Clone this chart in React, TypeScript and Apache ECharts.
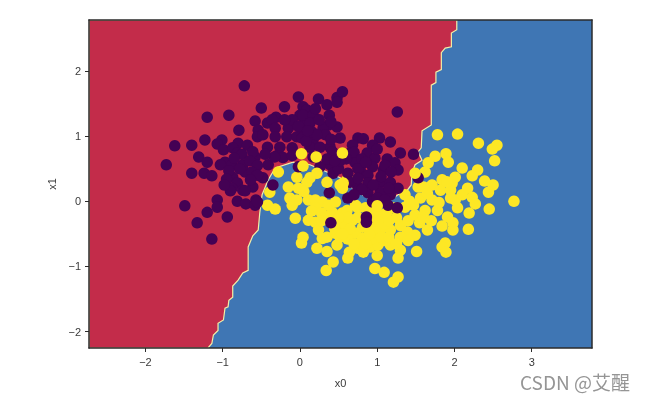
import React, { useEffect, useRef } from "react";
import * as echarts from "echarts";

const xTicks = [-2, -1, 0, 1, 2, 3];
const yTicks = [-2, -1, 0, 1, 2];
const xLimits = [-2.73, 3.78];
const yLimits = [-2.25, 2.78];

const redRegionBoundary = [
  [2.03,2.78],[2.03,2.63],[1.96,2.58],[1.96,2.37],[1.88,2.35],[1.83,2.28],[1.83,2.02],[1.76,1.98],[1.76,1.82],[1.70,1.78],
  [1.70,1.17],[1.58,1.08],[1.57,0.82],[1.53,0.76],[1.58,0.63],[1.49,0.56],[1.45,0.43],[1.44,0.25],[1.39,0.17],[1.27,0.10],
  [1.10,-0.04],[1.00,-0.03],[0.88,0.05],[0.71,0.17],[0.52,0.36],[0.35,0.45],[0.13,0.56],[-0.09,0.60],[-0.32,0.51],[-0.41,0.33],
  [-0.49,0.10],[-0.52,-0.18],[-0.54,-0.44],[-0.61,-0.53],[-0.67,-0.70],[-0.67,-1.06],[-0.74,-1.10],[-0.80,-1.21],[-0.87,-1.30],[-0.87,-1.47],
  [-0.92,-1.52],[-0.93,-1.62],[-0.97,-1.64],[-0.99,-1.82],[-1.06,-1.87],[-1.06,-1.98],[-1.12,-2.05],[-1.14,-2.18],[-1.19,-2.25],
  [-2.73,-2.25],[-2.73,2.78],
];

const purplePoints = [
  [-0.72,1.77],[-0.02,1.60],[0.24,1.57],[-0.50,1.43],[-0.20,1.45],[-1.20,1.29],[-0.92,1.32],[0.04,1.45],[0.35,1.48],[0.48,1.59],
  [0.55,1.68],[0.48,1.52],[-0.58,1.23],[-0.31,1.29],[-0.42,1.20],[-0.36,1.25],[-0.79,1.09],[-1.23,0.94],[-1.62,0.85],[-1.40,0.86],
  [-1.01,0.94],[-1.07,0.88],[-0.99,0.79],[-1.31,0.68],[-1.20,0.60],[-1.73,0.56],[-1.40,0.43],[-1.24,0.43],[-1.14,0.39],[-0.54,1.09],
  [-0.55,0.99],[-0.32,1.12],[-0.32,0.99],[-0.48,1.02],[-0.15,1.12],[-0.17,0.99],[-0.04,0.99],[0.04,1.09],[0.00,1.32],[0.09,1.40],
  [0.07,1.22],[-0.80,0.89],[-0.87,0.82],[-0.68,0.86],[-0.81,0.74],[-0.58,0.68],[-0.42,0.83],[-0.26,0.83],[-0.10,0.82],[-0.61,0.76],
  [-0.97,0.60],[-1.03,0.56],[-0.88,0.56],[-0.74,0.56],[-0.41,0.56],[-0.87,0.37],[-0.81,0.28],[-0.88,0.20],[-0.74,0.17],[-0.61,0.22],
  [-0.48,0.36],[-0.35,0.25],[-0.71,0.45],[-1.49,-0.07],[-1.07,0.02],[-1.07,-0.09],[-1.20,-0.17],[-0.94,-0.24],[-1.33,-0.33],[-1.14,-0.58],
  [-0.81,0.00],[-0.70,-0.04],[-0.57,0.02],[-0.58,-0.06],[-0.90,0.16],[-0.71,0.16],[-0.02,0.53],[-0.55,-0.01],
  [1.26,1.37],[0.04,1.32],[0.17,1.32],[0.38,1.32],[0.13,1.20],[0.37,1.17],[0.48,1.14],[0.16,1.06],[0.30,1.12],[0.03,0.97],
  [0.17,0.94],[0.33,1.02],[0.52,0.97],[0.75,0.97],[0.82,0.96],[1.03,0.97],[1.17,0.91],[1.30,0.74],[1.47,0.72],[0.68,0.86],
  [0.94,0.86],[0.87,0.74],[0.65,0.74],[0.39,0.83],[0.42,0.76],[0.13,0.83],[0.26,0.83],[0.17,0.68],[0.71,0.60],[0.97,0.66],
  [1.13,0.65],[1.23,0.59],[0.94,0.53],[1.08,0.48],[1.27,0.48],[0.39,0.56],[0.43,0.43],[0.62,0.43],[0.78,0.48],[0.88,0.40],
  [0.88,0.28],[1.04,0.29],[1.17,0.29],[1.27,0.20],[1.17,0.10],[1.04,0.14],[0.88,0.13],[0.95,0.02],[0.75,0.22],[0.65,0.29],
  [0.38,0.13],[0.62,0.05],[1.14,-0.06],[1.26,-0.10],[0.94,-0.01],[0.26,0.53],[0.86,-0.24],[0.86,-0.32],[0.40,-0.33],[1.53,0.36],
  [-0.75,0.72],[-0.65,0.62],[-0.85,0.66],[-0.55,0.55],[-0.62,0.45],[-0.78,0.50],[-0.92,0.47],[-0.55,0.40],[-0.64,0.33],[-0.95,0.34],
  [-0.98,0.25],[-0.30,0.70],[-0.22,0.67],[-0.10,0.70],[-0.33,0.68],[-0.45,0.72],[-0.10,1.25],[-0.02,1.15],[-0.20,1.25],[0.25,1.25],
  [0.20,1.42],[0.40,1.22],[0.22,1.02],[0.08,0.92],[0.40,0.95],[0.10,1.08],[0.70,0.75],[0.80,0.65],[0.60,0.65],[0.75,0.50],
  [0.85,0.60],[1.00,0.80],[1.10,0.55],[1.18,0.45],[1.05,0.38],[0.95,0.25],[1.15,0.20],[0.75,0.35],[0.80,0.18],[0.70,0.10],
  [1.00,0.05],[1.10,0.02],[0.62,0.30],[0.50,0.50],[0.52,0.62],[0.35,0.65],[0.45,0.62],
];

const yellowUnderPoints = [
  [-0.28,0.45],[-0.04,0.37],[0.09,0.29],[-0.39,0.14],[-0.15,0.22],[-0.02,0.20],[-0.13,0.05],[-0.10,-0.06],[-0.42,-0.06],[-0.32,-0.12],
  [-0.04,0.02],[0.11,0.02],[0.20,0.02],[0.29,-0.01],[-0.06,-0.26],[0.11,-0.29],[0.20,-0.32],[0.24,-0.44],[0.29,-0.57],[0.04,-0.55],
  [0.02,-0.64],[0.22,-0.72],[0.35,-0.77],[0.43,-0.93],[0.34,-1.06],[0.62,-0.87],[0.64,-0.78],[0.48,-0.67],[0.35,-0.55],[0.46,-0.49],
  [0.59,-0.44],[0.72,-0.49],[0.81,-0.57],[0.75,-0.72],[0.82,-0.78],[1.00,-0.83],[0.97,-1.03],[1.09,-1.09],[0.91,-0.70],[1.01,-0.67],
  [0.42,-0.17],[0.55,-0.18],[0.61,-0.14],[0.75,-0.10],[0.72,-0.06],[0.37,-0.06],[0.46,-0.01],[0.52,0.25],[0.61,0.33],[0.35,-0.24],
  [0.55,-0.33],[0.68,-0.29],[0.81,-0.40],[0.94,-0.37],[1.04,-0.44],[0.91,-0.18],[1.06,-0.21],[0.43,0.60],[0.74,0.33],
  [1.78,1.02],[2.04,1.03],[2.31,0.89],[2.55,0.86],[2.49,0.80],[2.52,0.62],[1.75,0.69],[1.89,0.73],[1.92,0.60],[1.66,0.59],
  [1.62,0.45],[2.10,0.51],[2.30,0.48],[2.23,0.39],[2.39,0.31],[2.50,0.25],[2.44,0.14],[2.01,0.37],[1.84,0.33],[1.97,0.28],
  [1.71,0.25],[1.53,0.22],[1.60,0.22],[2.17,0.20],[1.82,0.17],[1.95,0.17],[1.36,0.10],[1.56,0.05],[1.47,-0.06],[1.71,0.02],
  [2.23,0.06],[2.01,0.02],[2.27,-0.04],[2.04,-0.10],[2.45,-0.12],[2.19,-0.18],[2.77,0.00],[1.12,-0.18],[1.36,-0.09],[1.49,-0.21],
  [1.62,-0.14],[1.78,-0.14],[1.91,-0.24],[1.98,-0.33],[1.98,-0.44],[1.84,-0.38],[2.18,-0.43],[1.65,-0.44],[1.49,-0.52],[1.39,-0.47],
  [1.30,-0.37],[1.17,-0.44],[0.97,-0.47],[0.94,-0.57],[1.30,-0.55],[1.08,-0.60],[1.17,-0.67],[1.30,-0.75],[1.27,-0.87],[1.51,-0.77],
  [1.88,-0.64],[1.84,-0.70],[1.89,-0.78],[1.27,-1.16],[1.21,-1.24],
  [0.20,-0.10],[0.28,-0.18],[0.15,-0.15],[0.28,-0.30],[0.40,-0.30],[0.45,-0.42],[0.52,-0.55],[0.62,-0.58],[0.70,-0.65],[0.62,-0.25],
  [0.75,-0.25],[0.85,-0.10],[0.95,-0.15],[1.00,-0.30],[1.10,-0.35],[1.15,-0.30],[1.20,-0.10],[1.25,-0.25],[1.40,-0.30],[1.55,-0.33],
  [1.60,-0.25],[1.05,-0.55],[1.15,-0.55],[0.90,-0.50],[0.85,-0.38],[0.50,-0.25],[0.65,-0.42],[1.25,-0.65],[1.40,-0.60],[1.42,0.00],
  [1.70,-0.30],[1.80,-0.02],[1.95,0.05],[2.10,0.10],[1.90,0.30],[1.65,0.12],[0.85,-0.65],[0.55,-0.50],[0.05,0.15],
];

const yellowOverPoints = [
  [0.02,0.73],[0.21,0.68],[0.55,0.74],[0.04,0.54],[1.49,0.43],[0.56,0.28],[0.55,0.20],[0.35,0.29],[0.13,0.36],[0.22,0.43],[1.00,-0.07],
];

const axisText = { color: "#3a3a3a", fontSize: 11, fontFamily: "Liberation Sans" };
const minus = (v: number) => String(v).replace("-", "\u2212");

export default function App() {
  const ref = useRef<HTMLDivElement>(null);
  useEffect(() => {
    document.body.style.margin = "0";
    const chart = echarts.init(ref.current!, null, { renderer: "svg" });
    const lineStyle = { color: "#2b2b2b", width: 1.5 };
    const scatter = (data: number[][], color: string, z: number) => ({
      type: "scatter", data, symbolSize: 11.5, z, silent: true,
      itemStyle: { color, opacity: 1 },
    });
    chart.setOption({
      animation: false,
      backgroundColor: "#ffffff",
      grid: { left: 89, top: 20, width: 503, height: 328, show: true, backgroundColor: "#3f76b4", borderWidth: 0 },
      xAxis: [
        {
          type: "value", min: xLimits[0], max: xLimits[1], position: "bottom", z: 10,
          name: "x0", nameLocation: "middle", nameGap: 29, nameTextStyle: axisText,
          splitLine: { show: false },
          axisLine: { show: true, onZero: false, lineStyle },
          axisTick: { show: true, length: 4, customValues: xTicks, lineStyle: { color: "#2b2b2b", width: 1 } },
          axisLabel: { ...axisText, margin: 8, customValues: xTicks, formatter: minus, showMinLabel: true, showMaxLabel: true },
        },
        {
          type: "value", min: xLimits[0], max: xLimits[1], position: "top", z: 10,
          splitLine: { show: false }, axisTick: { show: false }, axisLabel: { show: false },
          axisLine: { show: true, onZero: false, lineStyle },
        },
      ],
      yAxis: [
        {
          type: "value", min: yLimits[0], max: yLimits[1], position: "left", z: 10,
          name: "x1", nameLocation: "middle", nameGap: 32, nameTextStyle: axisText,
          splitLine: { show: false },
          axisLine: { show: true, onZero: false, lineStyle },
          axisTick: { show: true, length: 4, customValues: yTicks, lineStyle: { color: "#2b2b2b", width: 1 } },
          axisLabel: { ...axisText, margin: 8, customValues: yTicks, formatter: minus, showMinLabel: true, showMaxLabel: true },
        },
        {
          type: "value", min: yLimits[0], max: yLimits[1], position: "right", z: 10,
          splitLine: { show: false }, axisTick: { show: false }, axisLabel: { show: false },
          axisLine: { show: true, onZero: false, lineStyle },
        },
      ],
      series: [
        {
          type: "custom", data: redRegionBoundary, z: 1, silent: true, clip: true,
          encode: { x: 0, y: 1 },
          renderItem: (params: any, api: any) => {
            if (params.dataIndex !== 0) return null;
            return {
              type: "polygon",
              shape: { points: redRegionBoundary.map((p) => api.coord(p)) },
              style: { fill: "#c32c4a", stroke: "#f3efa6", lineWidth: 1.2 },
            };
          },
        },
        scatter(yellowUnderPoints, "#fde725", 3),
        scatter(purplePoints, "#440154", 4),
        scatter(yellowOverPoints, "#fde725", 5),
      ],
      graphic: [
        {
          type: "text", left: 520, top: 372, z: 20,
          style: { text: "CSDN @艾醒", fill: "#959595", fontSize: 19, fontFamily: "Noto Sans CJK SC" },
        },
      ],
    });
    return () => chart.dispose();
  }, []);
  return <div ref={ref} style={{ width: 646, height: 402, filter: "blur(0.4px)" }} />;
}
